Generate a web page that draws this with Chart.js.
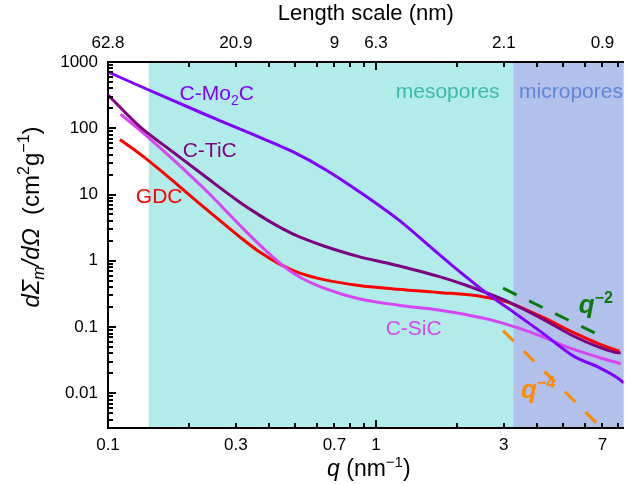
<!DOCTYPE html>
<html>
<head>
<meta charset="utf-8">
<script src="https://cdn.jsdelivr.net/npm/chart.js@4.4.0/dist/chart.umd.min.js"></script>
<style>
  html, body { margin: 0; padding: 0; background: #fff; }
  #wrap { width: 626px; height: 484px; position: relative; }
</style>
</head>
<body>
<div id="wrap"><canvas id="saxs"></canvas></div>
<script>
// SAXS curves: q in nm^-1, dSigma/dOmega in cm^2 g^-1
const qMo2C = [0.1, 0.142, 0.2196, 0.3368, 0.4867, 0.6511, 0.8633, 1.215, 1.612, 1.912, 2.624, 3.25, 4.129, 5.523, 6.724, 7.978, 8.4];
const iMo2C = [707, 378, 176, 85, 44.7, 23.5, 11.14, 4.14, 1.565, 0.868, 0.311, 0.1696, 0.0846, 0.0355, 0.0251, 0.0171, 0.0144];

const qTiC = [0.1, 0.1315, 0.1743, 0.2332, 0.3093, 0.3669, 0.4172, 0.4867, 0.5627, 0.6511, 0.8633, 1.145, 1.711, 2.156, 2.859, 3.25, 4.129, 5.523, 6.724, 7.78, 8.19];
const iTiC = [318, 105.7, 44.2, 18.05, 7.73, 4.89, 3.58, 2.58, 2.017, 1.632, 1.157, 0.889, 0.582, 0.4315, 0.2796, 0.2223, 0.1367, 0.0714, 0.0506, 0.0417, 0.0408];

const qGDC = [0.1108, 0.1315, 0.1561, 0.1851, 0.2196, 0.2606, 0.3093, 0.3669, 0.4353, 0.5166, 0.6511, 0.8633, 1.145, 1.711, 2.472, 3.035, 4.129, 5.523, 6.724, 8.09];
const iGDC = [67.8, 41.1, 23.6, 13.16, 7.29, 4.1, 2.317, 1.367, 0.901, 0.659, 0.5116, 0.4256, 0.3795, 0.3338, 0.2904, 0.2441, 0.1445, 0.0809, 0.0569, 0.0432];

const qSiC = [0.1115, 0.1315, 0.1743, 0.2332, 0.3093, 0.3578, 0.4467, 0.5166, 0.6511, 0.8633, 1.215, 1.711, 2.156, 2.859, 4.129, 5.203, 6.724, 8.19];
const iSiC = [162.7, 94, 34.3, 11.29, 3.5, 1.942, 0.861, 0.5757, 0.3769, 0.2672, 0.2139, 0.1811, 0.1544, 0.1198, 0.0732, 0.0494, 0.0354, 0.0279];

// power-law guide lines
const qSlope2 = [2.98, 6.9];
const iSlope2 = [0.386, 0.0736];
const qSlope4 = [2.98, 6.95];
const iSlope4 = [0.0886, 0.003];

// axes
const Q_MIN = 0.1, Q_MAX = 8.4;
const I_MIN = 0.003, I_MAX = 1000;
const qTickMarks = [0.1, 0.2, 0.3, 0.4, 0.5, 0.6, 0.7, 0.8, 0.9, 1, 2, 3, 4, 5, 6, 7, 8];
const qLabelValues = [0.1, 0.3, 0.7, 1, 3, 7];
const qLabelText = ['0.1', '0.3', '0.7', '1', '3', '7'];
const lengthLabelText = ['62.8', '20.9', '9', '6.3', '2.1', '0.9'];
const iLabelValues = [0.01, 0.1, 1, 10, 100, 1000];
const iLabelText = ['0.01', '0.1', '1', '10', '100', '1000'];

// pore size ranges (q boundaries)
const mesoStart = 0.142;
const microStart = 3.25;

const FONT = "'Liberation Sans', Arial, Helvetica, sans-serif";

const iTickMarks = [];
for (let e = -3; e <= 2; e++) {
  for (let m = 1; m <= 9; m++) {
    const v = parseFloat(m + 'e' + e);
    if (v >= I_MIN) iTickMarks.push(v);
  }
}
iTickMarks.push(1000);

function pts(qs, vs) {
  return qs.map((q, i) => ({ x: q, y: vs[i] }));
}

function curve(label, qs, vs, color) {
  return {
    label, data: pts(qs, vs), borderColor: color, borderWidth: 3,
    pointRadius: 0, fill: false, cubicInterpolationMode: 'monotone'
  };
}

function guide(label, qs, vs, color) {
  return {
    label, data: pts(qs, vs), borderColor: color, borderWidth: 3,
    borderDash: [15, 14], pointRadius: 0, fill: false, tension: 0
  };
}

function labelFor(values, texts) {
  return v => {
    const i = values.indexOf(v);
    return i >= 0 ? texts[i] : '';
  };
}

function isDecade(v) {
  const l = Math.log10(v);
  return Math.abs(l - Math.round(l)) < 1e-9;
}

// draw a run of text pieces with their own fonts / offsets
function drawParts(ctx, parts, x, y, align) {
  let w = 0;
  parts.forEach(p => { ctx.font = p.font; p.w = ctx.measureText(p.text).width; w += p.w; });
  let cx = align === 'center' ? x - w / 2 : x;
  ctx.textAlign = 'left';
  ctx.textBaseline = 'alphabetic';
  parts.forEach(p => {
    ctx.font = p.font;
    ctx.fillStyle = p.color;
    ctx.fillText(p.text, cx, y + (p.dy || 0));
    cx += p.w;
  });
}

const big = `21px ${FONT}`;
const small = `14px ${FONT}`;
const textLabels = [
  { q: 0.185, v: 267, parts: [
    { text: 'C-Mo', font: big, color: '#8000ff' },
    { text: '2', font: small, color: '#8000ff', dy: 5 },
    { text: 'C', font: big, color: '#8000ff' }] },
  { q: 0.19, v: 36.9, parts: [{ text: 'C-TiC', font: big, color: '#7f007f' }] },
  { q: 0.127, v: 7.46, parts: [{ text: 'GDC', font: big, color: '#ff0000' }] },
  { q: 1.087, v: 0.0762, parts: [{ text: 'C-SiC', font: big, color: '#d845f2' }] },
  { q: 1.185, v: 289, parts: [{ text: 'mesopores', font: big, color: '#3ab7ab' }] },
  { q: 3.42, v: 289, parts: [{ text: 'micropores', font: big, color: '#5e86d6' }] },
  { q: 5.71, v: 0.1637, parts: [
    { text: 'q', font: `italic bold 26px ${FONT}`, color: '#0b7a0b' },
    { text: '\u22122', font: `bold 16px ${FONT}`, color: '#0b7a0b', dy: -10 }] },
  { q: 3.48, v: 0.00855, parts: [
    { text: 'q', font: `italic bold 26px ${FONT}`, color: '#ff8a00' },
    { text: '\u22124', font: `bold 16px ${FONT}`, color: '#ff8a00', dy: -10 }] }
];

const poreShading = {
  id: 'poreShading',
  beforeDraw(chart) {
    const { ctx, chartArea: a, scales: { x } } = chart;
    const x0 = x.getPixelForValue(mesoStart);
    const x1 = x.getPixelForValue(microStart);
    ctx.save();
    ctx.fillStyle = '#b2ecea';
    ctx.fillRect(x0, a.top, x1 - x0, a.bottom - a.top);
    ctx.fillStyle = '#b1c1ec';
    ctx.fillRect(x1, a.top, a.right - x1, a.bottom - a.top);
    ctx.restore();
  }
};

// inward tick marks on bottom, top and left axes
const inwardTicks = {
  id: 'inwardTicks',
  afterDatasetsDraw(chart) {
    const { ctx, chartArea: a, scales } = chart;
    const xs = scales.x, ys = scales.y;
    ctx.save();
    ctx.fillStyle = '#000';
    for (const v of qTickMarks) {
      const px = Math.round(xs.getPixelForValue(v));
      const len = isDecade(v) ? 8 : 5;
      ctx.fillRect(px - 1, a.bottom - len, 2, len);
      ctx.fillRect(px - 1, a.top, 2, len);
    }
    for (const v of iTickMarks) {
      const py = Math.round(ys.getPixelForValue(v));
      const len = isDecade(v) ? 8 : 5;
      ctx.fillRect(a.left, py - 1, len, 2);
    }
    ctx.restore();
  }
};

// rich-text titles and labels
const decorations = {
  id: 'decorations',
  afterDraw(chart) {
    const { ctx, chartArea: a, scales } = chart;
    const xs = scales.x, ys = scales.y;
    ctx.save();
    textLabels.forEach(l => {
      drawParts(ctx, l.parts, xs.getPixelForValue(l.q), ys.getPixelForValue(l.v), 'left');
    });

    const t = `23px ${FONT}`, ti = `italic 23px ${FONT}`, ts = `15px ${FONT}`;
    drawParts(ctx, [
      { text: 'q', font: ti, color: '#000' },
      { text: ' (nm', font: t, color: '#000' },
      { text: '\u22121', font: ts, color: '#000', dy: -9 },
      { text: ')', font: t, color: '#000' }
    ], (a.left + a.right) / 2 + 3, 476, 'center');

    const yf = `24px ${FONT}`, yfi = `italic 24px ${FONT}`, yfs = `16px ${FONT}`, yfsi = `italic 16px ${FONT}`;
    ctx.translate(39, 217);
    ctx.rotate(-Math.PI / 2);
    drawParts(ctx, [
      { text: 'd\u03A3', font: yfi, color: '#000' },
      { text: 'm', font: yfsi, color: '#000', dy: 5 },
      { text: '/d\u03A9', font: yfi, color: '#000' },
      { text: '  (cm', font: yf, color: '#000' },
      { text: '2', font: yfs, color: '#000', dy: -10 },
      { text: 'g', font: yf, color: '#000' },
      { text: '\u22121', font: yfs, color: '#000', dy: -10 },
      { text: ')', font: yf, color: '#000' }
    ], 0, 0, 'center');
    ctx.restore();
  }
};

const tickFont = { family: FONT, size: 17 };
const noGrid = { display: false, drawTicks: false };

new Chart(document.getElementById('saxs'), {
  type: 'line',
  data: {
    datasets: [
      curve('C-Mo2C', qMo2C, iMo2C, '#8000ff'),
      curve('C-TiC', qTiC, iTiC, '#7f007f'),
      curve('C-SiC', qSiC, iSiC, '#d845f2'),
      curve('GDC', qGDC, iGDC, '#ff0000'),
      guide('q^-2', qSlope2, iSlope2, '#0b7a0b'),
      guide('q^-4', qSlope4, iSlope4, '#ff8a00')
    ]
  },
  options: {
    responsive: true,
    maintainAspectRatio: false,
    animation: false,
    devicePixelRatio: 1,
    layout: { padding: 0 },
    plugins: { legend: { display: false }, tooltip: { enabled: false } },
    scales: {
      x: {
        type: 'logarithmic', position: 'bottom', min: Q_MIN, max: Q_MAX,
        afterBuildTicks: s => { s.ticks = qTickMarks.map(v => ({ value: v })); },
        afterFit: s => { s.height = 56; },
        ticks: { autoSkip: false, maxRotation: 0, minRotation: 0, padding: 7, color: '#000', font: tickFont,
                 callback: labelFor(qLabelValues, qLabelText) },
        grid: noGrid,
        border: { display: true, color: '#000', width: 2 }
      },
      x2: {
        type: 'logarithmic', position: 'top', min: Q_MIN, max: Q_MAX,
        afterBuildTicks: s => { s.ticks = qTickMarks.map(v => ({ value: v })); },
        afterFit: s => { s.height = 62; },
        ticks: { autoSkip: false, maxRotation: 0, minRotation: 0, padding: 8, color: '#000', font: tickFont,
                 callback: labelFor(qLabelValues, lengthLabelText) },
        grid: noGrid,
        border: { display: true, color: '#000', width: 2 },
        title: { display: true, text: 'Length scale (nm)', color: '#000',
                 font: { family: FONT, size: 22 }, padding: { top: 1, bottom: 0 } }
      },
      y: {
        type: 'logarithmic', position: 'left', min: I_MIN, max: I_MAX,
        afterBuildTicks: s => { s.ticks = iTickMarks.map(v => ({ value: v })); },
        afterFit: s => { s.width = 108; },
        ticks: { autoSkip: false, padding: 10, color: '#000', font: tickFont,
                 callback: labelFor(iLabelValues, iLabelText) },
        grid: noGrid,
        border: { display: true, color: '#000', width: 2 }
      }
    }
  },
  plugins: [poreShading, inwardTicks, decorations]
});
</script>
</body>
</html>
